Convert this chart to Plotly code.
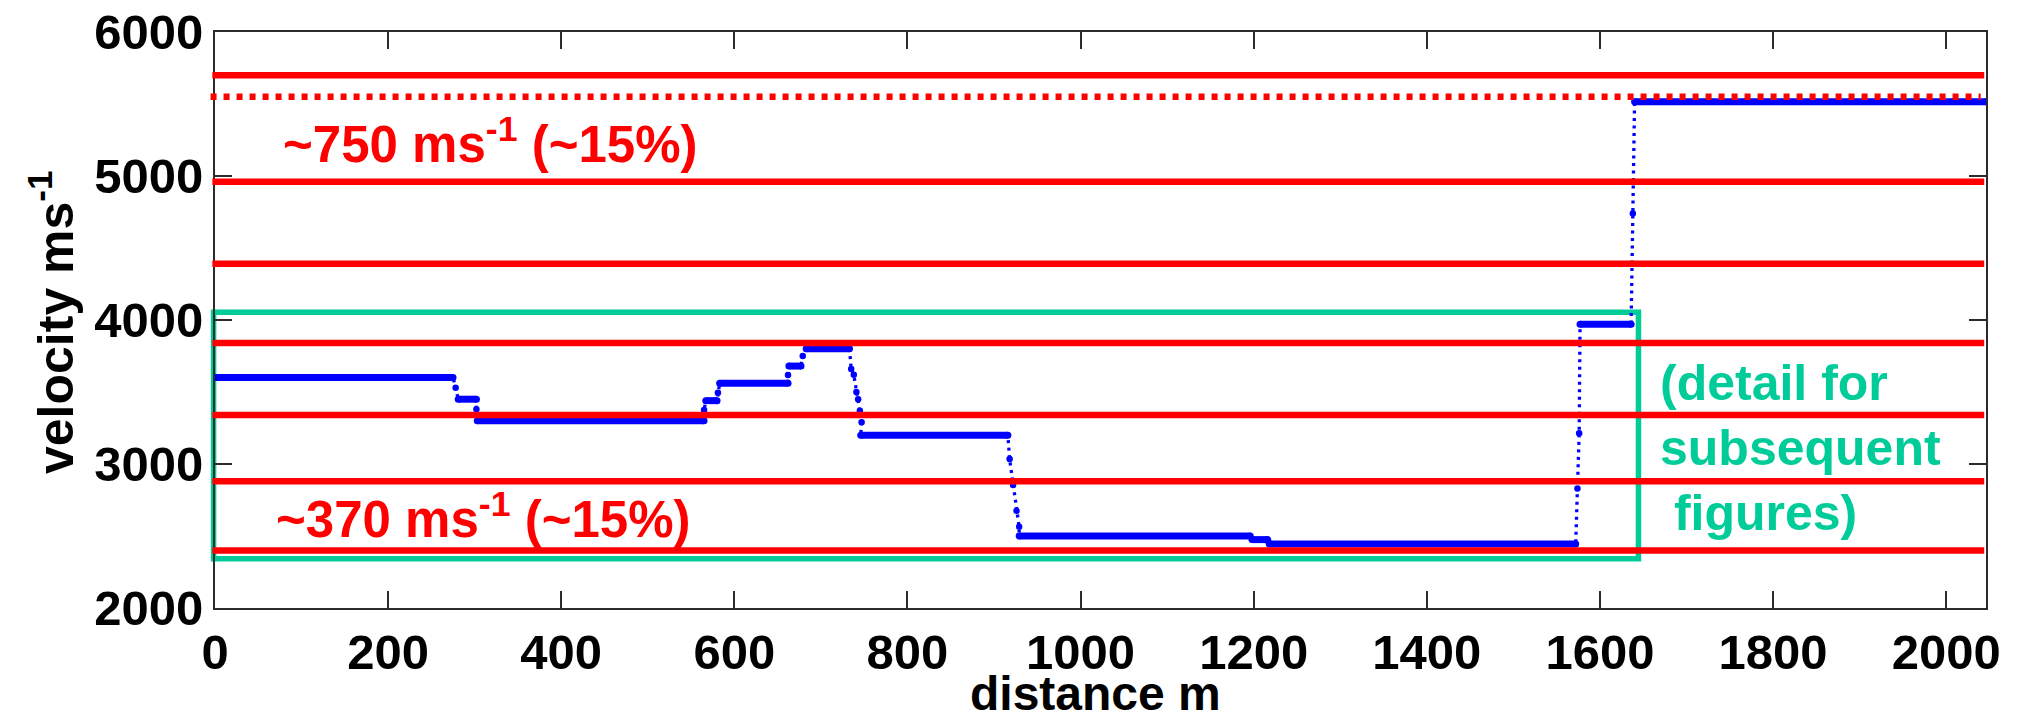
import plotly.graph_objects as go

# Interval velocity profile: constant-velocity plateaus (distance in m, velocity in m/s)
plateau_start = [0, 281, 303, 567, 583, 663, 683, 746, 929, 1198, 1218, 1577, 1640]
plateau_end = [275, 302, 565, 580, 662, 677, 733, 916, 1196, 1216, 1572, 1636, 2046]
plateau_velocity = [3600, 3450, 3300, 3440, 3560, 3680, 3800, 3200, 2500, 2475, 2445, 3970, 5515]

# Intermediate samples between consecutive plateaus
trans_distance = [[278], [302], [565], [581], [662], [679],
                  [735, 738, 741, 743, 745, 747], [918, 922, 926, 929], [],
                  [1217], [1574, 1576], [1638]]
trans_velocity = [[3530], [3380], [3375], [3495], [3618], [3750],
                  [3660, 3620, 3500, 3450, 3370, 3290], [3035, 2855, 2675, 2565], [],
                  [2460], [2830, 3213], [4740]]

# Reference velocity levels
level_solid = [5700, 4960, 4390, 3840, 3340, 2880, 2400]
level_dotted = [5550]

# Highlighted detail window
box_x_max = 1644.5
box_v_min, box_v_max = 2342, 4053

x_range = [0, 2046]
x_ticks = [0, 200, 400, 600, 800, 1000, 1200, 1400, 1600, 1800, 2000]
y_ticks = [2000, 3000, 4000, 5000, 6000]

BLUE = "#0000FF"
RED = "#FF0000"
GREEN = "#00CC99"
FONT = "Liberation Sans, Arial, sans-serif"

# full ordered path through plateaus and transition samples
path_x, path_y = [], []
for i in range(len(plateau_start)):
    path_x += [plateau_start[i], plateau_end[i]]
    path_y += [plateau_velocity[i], plateau_velocity[i]]
    if i < len(trans_distance):
        path_x += trans_distance[i]
        path_y += trans_velocity[i]

plat_x, plat_y = [], []
for s, e, v in zip(plateau_start, plateau_end, plateau_velocity):
    plat_x += [s, e, None]
    plat_y += [v, v, None]

tx = [d for seg in trans_distance for d in seg]
ty = [v for seg in trans_velocity for v in seg]

fig = go.Figure()
fig.add_trace(go.Scatter(x=path_x, y=path_y, mode="lines",
                         line=dict(color=BLUE, width=3.3, dash="3px,4.5px"),
                         hoverinfo="skip", showlegend=False))
fig.add_trace(go.Scatter(x=plat_x, y=plat_y, mode="lines+markers",
                         line=dict(color=BLUE, width=7),
                         marker=dict(color=BLUE, size=7),
                         showlegend=False))
fig.add_trace(go.Scatter(x=tx, y=ty, mode="markers",
                         marker=dict(color=BLUE, size=6.5),
                         showlegend=False))

shapes = [dict(type="rect", xref="paper", yref="y", x0=-0.0008,
               x1=box_x_max / x_range[1], y0=box_v_min, y1=box_v_max,
               line=dict(color=GREEN, width=5.5), layer="below")]
for v in level_solid:
    shapes.append(dict(type="line", xref="paper", yref="y", x0=-0.0015, x1=0.999,
                       y0=v, y1=v, line=dict(color=RED, width=6.5), layer="above"))
for v in level_dotted:
    shapes.append(dict(type="line", xref="paper", yref="y", x0=-0.0025, x1=0.997,
                       y0=v, y1=v, line=dict(color=RED, width=6.5, dash="6px,7px"),
                       layer="above"))

annotations = [
    dict(x=318, y=5243, xref="x", yref="y", showarrow=False,
         xanchor="center", yanchor="middle",
         text="~750 ms<sup>-1</sup> (~15%)",
         font=dict(family=FONT, size=51, color=RED, weight="bold")),
    dict(x=310, y=2639, xref="x", yref="y", showarrow=False,
         xanchor="center", yanchor="middle",
         text="~370 ms<sup>-1</sup> (~15%)",
         font=dict(family=FONT, size=51, color=RED, weight="bold")),
    dict(x=1667, y=3111, xref="x", yref="y", showarrow=False,
         xanchor="left", yanchor="middle", align="left",
         text="(detail for<br>subsequent<br>\u00a0figures)",
         font=dict(family=FONT, size=50, color=GREEN, weight="bold")),
    dict(x=(1095 - 215) / 1771, y=(608 - 693) / 576, xref="paper", yref="paper",
         xanchor="center", yanchor="middle",
         showarrow=False, text="distance m",
         font=dict(family=FONT, size=48, color="black", weight="bold")),
    dict(x=(52 - 215) / 1771, y=(608 - 322) / 576, xref="paper", yref="paper",
         xanchor="center", yanchor="middle",
         showarrow=False, textangle=-90, text="velocity ms<sup>-1</sup>",
         font=dict(family=FONT, size=50, color="black", weight="bold")),
]

axis_common = dict(showline=True, linecolor="#2b2b2b", linewidth=2, mirror="ticks",
                   ticks="inside", ticklen=17, tickwidth=2, tickcolor="#2b2b2b",
                   showgrid=False, zeroline=False,
                   tickfont=dict(family=FONT, size=49, color="black", weight="bold"))

fig.update_xaxes(range=x_range, tickvals=x_ticks, **axis_common)
fig.update_yaxes(range=[2000, 6000], tickvals=y_ticks, **axis_common)

fig.update_layout(width=2018, height=717,
                  margin=dict(l=215, r=32, t=32, b=109, autoexpand=False),
                  paper_bgcolor="white", plot_bgcolor="white",
                  shapes=shapes, annotations=annotations)

fig.write_html("out.html")
